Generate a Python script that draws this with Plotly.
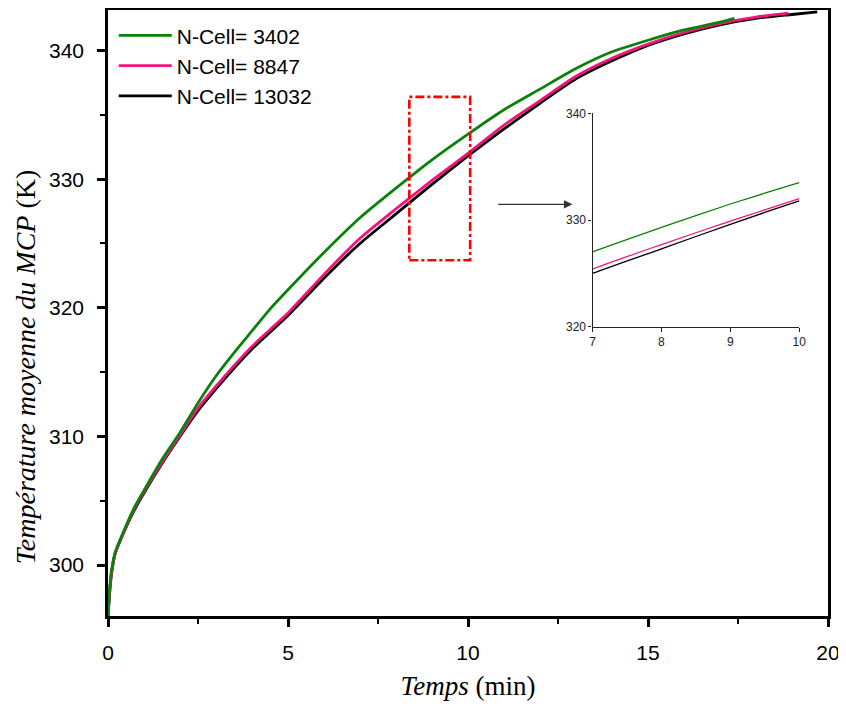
import plotly.graph_objects as go

# ---- data ----
t_3402 = [0, 0.05, 0.1, 0.2, 0.4, 0.7, 1.0, 1.5, 2.0, 2.5, 3.0, 3.5, 4.0, 4.5, 5, 6, 7, 8, 9, 10, 11, 12, 13, 14, 15, 16, 17, 17.4]
T_3402 = [296.0, 298.3, 299.6, 301.0, 302.4, 304.3, 305.8, 308.2, 310.3, 312.6, 314.7, 316.5, 318.2, 319.9, 321.4,
          324.3, 327.0, 329.3, 331.5, 333.5, 335.4, 337.0, 338.6, 339.9, 340.8, 341.6, 342.2, 342.5]

t_8847 = [0, 0.05, 0.1, 0.2, 0.4, 0.7, 1.0, 1.5, 2.0, 2.5, 3.0, 3.5, 4.0, 4.5, 5, 6, 7, 8, 9, 10, 11, 12, 13, 14, 15, 16, 17, 18, 18.9]
T_8847 = [296.0, 298.0, 299.4, 300.9, 302.3, 304.2, 305.7, 308.0, 310.1, 312.2, 313.9, 315.5, 317.0, 318.3, 319.6,
          322.6, 325.4, 327.7, 329.9, 332.0, 334.2, 336.1, 338.0, 339.4, 340.5, 341.4, 342.1, 342.6, 342.9]

t_13032 = [0, 0.05, 0.1, 0.2, 0.4, 0.7, 1.0, 1.5, 2.0, 2.5, 3.0, 3.5, 4.0, 4.5, 5, 6, 7, 8, 9, 10, 11, 12, 13, 14, 15, 16, 17, 18, 19, 19.7]
T_13032 = [296.0, 298.0, 299.4, 300.9, 302.3, 304.1, 305.6, 307.9, 310.0, 312.0, 313.7, 315.3, 316.8, 318.1, 319.4,
           322.3, 325.0, 327.3, 329.6, 331.8, 333.9, 335.9, 337.8, 339.2, 340.4, 341.3, 342.0, 342.5, 342.8, 343.0]

series_names = ["N-Cell= 3402", "N-Cell= 8847", "N-Cell= 13032"]
colors = ["#0A820A", "#F5127F", "#000000"]

main_xticks = [0, 5, 10, 15, 20]
main_yticks = [300, 310, 320, 330, 340]
inset_xticks = [7, 8, 9, 10]
inset_yticks = [320, 330, 340]

zoom_box_x = [8.37, 10.06]
zoom_box_y = [323.7, 336.4]

SANS = "Arial, Liberation Sans, sans-serif"
SERIF = "Times New Roman, Liberation Serif, serif"

fig = go.Figure()

# draw order: black, pink, green (green on top); legend order green, pink, black
data = [(t_13032, T_13032, series_names[2], colors[2], 3),
        (t_8847, T_8847, series_names[1], colors[1], 2),
        (t_3402, T_3402, series_names[0], colors[0], 1)]

for t, T, name, c, rank in data:
    fig.add_trace(go.Scatter(x=t, y=T, mode="lines", name=name, legendrank=rank,
                             line=dict(color=c, width=2.8, shape="spline", smoothing=0.6),
                             xaxis="x", yaxis="y"))
for t, T, name, c, rank in data:
    fig.add_trace(go.Scatter(x=t, y=T, mode="lines", name=name, showlegend=False,
                             line=dict(color=c, width=1.3, shape="spline", smoothing=0.6),
                             xaxis="x2", yaxis="y2"))

fig.update_layout(
    width=838, height=700, autosize=False,
    margin=dict(l=100, r=18, t=2, b=92),
    paper_bgcolor="white", plot_bgcolor="white",
    font=dict(family=SANS, color="black", size=21),
    showlegend=True,
    legend=dict(x=0.008, y=0.9915, xanchor="left", yanchor="top",
                bgcolor="rgba(0,0,0,0)", font=dict(size=21, family=SANS),
                itemwidth=53, tracegroupgap=0),
    xaxis=dict(range=[0, 20], tickvals=main_xticks, showgrid=False, zeroline=False, automargin=False,
               showline=True, linecolor="black", linewidth=2.6, mirror=True,
               ticks="outside", ticklen=8, tickwidth=2.6, tickcolor="black",
               minor=dict(ticks="outside", dtick=2.5, tick0=0, ticklen=5, tickwidth=2.4, tickcolor="black"),
               tickfont=dict(size=21), ticklabelstandoff=8,
               title=dict(text="<i>Temps</i> (min)", font=dict(family=SERIF, size=27), standoff=14)),
    yaxis=dict(range=[296.04, 343.15], tickvals=main_yticks, showgrid=False, zeroline=False, automargin=False,
               showline=True, linecolor="black", linewidth=2.6, mirror=True,
               ticks="outside", ticklen=8, tickwidth=2.6, tickcolor="black",
               minor=dict(ticks="outside", dtick=5, tick0=300, ticklen=5, tickwidth=2.4, tickcolor="black"),
               tickfont=dict(size=21), ticklabelstandoff=9),
    xaxis2=dict(domain=[0.673, 0.960], anchor="y2", range=[7, 10], tickvals=inset_xticks, automargin=False,
                showgrid=False, zeroline=False, showline=True, linecolor="#222", linewidth=1.2,
                ticks="outside", ticklen=4, tickwidth=1.2, tickcolor="#222",
                tickfont=dict(size=12, color="#222")),
    yaxis2=dict(domain=[0.4774, 0.8295], anchor="x2", range=[320, 340], tickvals=inset_yticks, automargin=False,
                showgrid=False, zeroline=False, showline=True, linecolor="#222", linewidth=1.2,
                ticks="outside", ticklen=3, tickwidth=1.2, tickcolor="#222",
                tickfont=dict(size=12, color="#222")),
)

# y-axis title as annotation (placed as in reference)
fig.add_annotation(text="<i>Température moyenne du MCP</i> (K)", textangle=-90,
                   xref="paper", yref="paper", x=-0.1155, y=0.412, showarrow=False,
                   font=dict(family=SERIF, size=28, color="black"), xanchor="center", yanchor="middle")

# red dash-dot zoom box
fig.add_shape(type="rect", xref="x", yref="y", x0=zoom_box_x[0], x1=zoom_box_x[1],
              y0=zoom_box_y[0], y1=zoom_box_y[1], line=dict(color="red", width=2.6, dash="dashdot"))

# arrow to the inset
fig.add_annotation(x=12.9, y=328.04, ax=10.8, ay=328.04, xref="x", yref="y", axref="x", ayref="y",
                   text="", showarrow=True, arrowhead=2, arrowsize=1.3, arrowwidth=1.3, arrowcolor="#333")

fig.write_html("out.html")
